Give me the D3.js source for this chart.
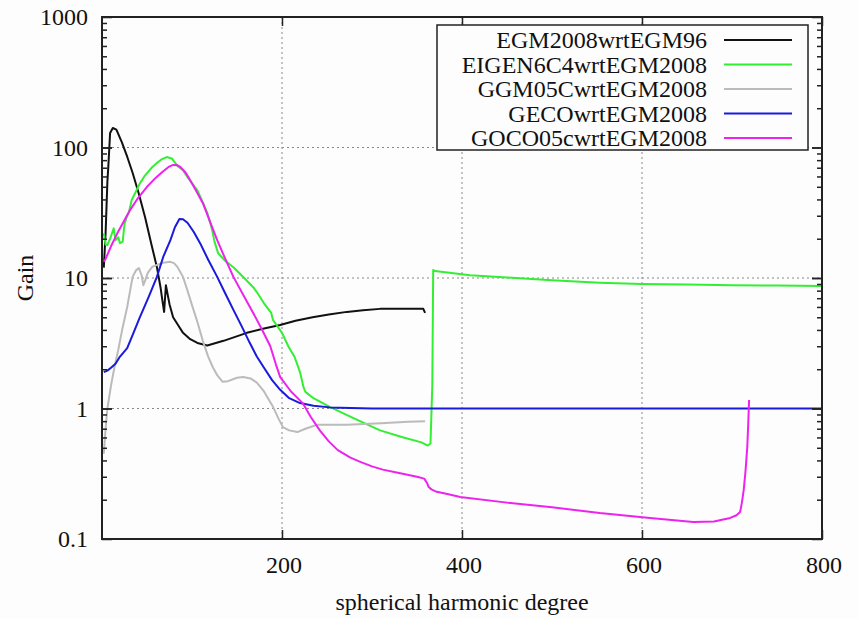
<!DOCTYPE html>
<html>
<head>
<meta charset="utf-8">
<script src="https://cdnjs.cloudflare.com/ajax/libs/d3/7.8.5/d3.min.js"></script>
<style>
	body { margin: 0; background: #fdfdfd; }
	svg text { fill: #111; }
</style>
</head>
<body>
<div id="chart"></div>
<script>
// series, [degree, gain]
var egm2008wrtEgm96 = [[2,12],[4,22],[6,55],[7,71],[9,129],[12,141],[16,137],[22,110],[28,85],[34,64],[41,44],[48,29],[55,18],[61,12.1],[65,8.5],[67,6.8],[69,5.5],[71,8.8],[75,6.3],[79,5.0],[85,4.3],[90,3.8],[98,3.4],[106,3.18],[117,3.04],[135,3.3],[161,3.8],[180,4.1],[198,4.36],[215,4.7],[234,5.0],[252,5.25],[272,5.5],[290,5.65],[309,5.8],[330,5.82],[353,5.8],[357,5.8],[359,5.4]];

var eigen6c4wrtEgm2008 = [[2,22],[4,18],[6,17.9],[9,20],[13,24],[15,19.5],[18,20.5],[20,18.5],[23,19],[25,26],[28,30],[30,32],[33,39.6],[37,45],[42,53],[47,60],[56,71],[61,76],[66,81],[72,84.5],[78,82],[79,80],[84,72],[90,67],[96,58],[106,47],[112,38],[117,31.5],[122,24],[125,19],[129,15.5],[137,13.5],[146,12.1],[158,10],[168,8.5],[172,7.8],[180,6.4],[188,5.4],[190,4.77],[200,3.8],[207,3.0],[214,2.48],[220,1.9],[224,1.45],[226,1.34],[235,1.2],[253,1.03],[280,0.84],[309,0.68],[335,0.6],[355,0.55],[362,0.52],[365,0.54],[367,1.5],[368,11.5],[370,11.3],[409,10.5],[450,10.1],[500,9.6],[553,9.2],[600,9.0],[650,8.9],[700,8.8],[750,8.75],[800,8.7]];

var ggm05cwrtEgm2008 = [[2,0.45],[4,0.7],[6,1.0],[10,1.5],[14,2.1],[18,2.8],[23,4.2],[28,6.0],[34,10.2],[38,11.5],[41,11.9],[44,10.5],[46,8.8],[48,9.6],[51,11.0],[56,12.2],[61,12.6],[68,13.1],[76,13.3],[80,13.0],[84,12.1],[90,10.2],[95,8.0],[100,6.2],[106,4.6],[112,3.3],[118,2.5],[123,2.08],[128,1.8],[134,1.6],[140,1.62],[150,1.72],[157,1.74],[165,1.7],[172,1.58],[180,1.35],[190,1.03],[196,0.84],[201,0.72],[208,0.68],[217,0.66],[226,0.7],[239,0.75],[272,0.75],[310,0.77],[340,0.79],[359,0.80]];

var gecowrtEgm2008 = [[2,1.9],[6,1.95],[10,2.05],[15,2.2],[20,2.5],[28,2.9],[35,3.8],[42,5.0],[52,7.2],[61,10.2],[68,14.5],[76,19.5],[81,24.5],[86,28.3],[90,28.2],[95,26.5],[102,22.5],[109,18.5],[118,13.8],[128,10.2],[137,7.6],[146,5.7],[155,4.3],[164,3.2],[172,2.5],[180,2.05],[189,1.65],[198,1.39],[208,1.2],[220,1.1],[235,1.05],[253,1.02],[300,1.0],[400,1.0],[500,1.0],[600,1.0],[700,1.0],[800,1.0]];

var goco05cwrtEgm2008 = [[2,13.3],[4,14],[10,17.5],[17,22],[24,27],[31,33],[40,41],[50,50],[58,57],[67,65],[74,71],[79,73.5],[84,73],[87,71],[93,64],[98,56],[105,46],[112,37.6],[120,27],[128,19.5],[137,14],[146,10.2],[157,7.4],[168,5.4],[178,4.0],[187,3],[193,2.2],[198,1.74],[210,1.35],[223,1.1],[232,0.86],[242,0.68],[252,0.56],[262,0.48],[276,0.42],[287,0.39],[300,0.36],[312,0.34],[330,0.32],[350,0.3],[358,0.29],[361,0.27],[363,0.25],[366,0.24],[372,0.23],[385,0.22],[398,0.21],[450,0.19],[500,0.175],[553,0.158],[609,0.145],[657,0.135],[680,0.136],[698,0.145],[705,0.152],[709,0.161],[711,0.19],[713,0.237],[715,0.33],[717,0.51],[718,0.75],[719,1.16]];

var seriesNames = ["EGM2008wrtEGM96", "EIGEN6C4wrtEGM2008", "GGM05CwrtEGM2008", "GECOwrtEGM2008", "GOCO05cwrtEGM2008"];
var seriesColors = ["#111111", "#33ee33", "#bbbbbb", "#1a1add", "#ee22ee"];
var seriesData = [egm2008wrtEgm96, eigen6c4wrtEgm2008, ggm05cwrtEgm2008, gecowrtEgm2008, goco05cwrtEgm2008];

var xTicks = [200, 400, 600, 800];
var yTicks = [0.1, 1, 10, 100, 1000];
var yTickLabels = ["0.1", "1", "10", "100", "1000"];

// pick the first serif face that is really installed (gnuplot look)
function pickFont(){
	var candidates = ["Liberation Serif", "Times New Roman", "Tinos", "DejaVu Serif", "Noto Serif", "FreeSerif", "Nimbus Roman", "Noto Serif CJK SC"];
	var ctx = document.createElement("canvas").getContext("2d");
	var probe = "EGM2008wrtEGM96 spherical";
	ctx.font = "40px monospace";
	var base = ctx.measureText(probe).width;
	for(var i = 0; i < candidates.length; i++){
		ctx.font = "40px '" + candidates[i] + "', monospace";
		if(ctx.measureText(probe).width != base){
			return "'" + candidates[i] + "', serif";
		}
	}
	return "serif";
}
var serif = pickFont();

var layout = {
	w: 858,
	h: 619,
	left: 102,
	right: 822,
	top: 17,
	bottom: 539
}

var svg = d3.select("#chart")
			.append("svg")
			.attr("width", layout.w)
			.attr("height", layout.h)
			.attr("font-family", serif);

var xScale = d3.scaleLinear().domain([0, 800]).range([layout.left, layout.right]),
	yScale = d3.scaleLog().domain([0.1, 1000]).range([layout.bottom, layout.top]);

// grid
var grid = svg.append("g").attr("class", "grid");
grid.selectAll("line.gx")
	.data(xTicks.slice(0, 3))
	.enter().append("line")
	.attr("x1", function(d){ return xScale(d); })
	.attr("x2", function(d){ return xScale(d); })
	.attr("y1", layout.top)
	.attr("y2", layout.bottom)
	.style("stroke", "#888")
	.style("stroke-width", 1)
	.style("stroke-dasharray", "2,3");
grid.selectAll("line.gy")
	.data([1, 10, 100])
	.enter().append("line")
	.attr("x1", layout.left)
	.attr("x2", layout.right)
	.attr("y1", function(d){ return yScale(d); })
	.attr("y2", function(d){ return yScale(d); })
	.style("stroke", "#888")
	.style("stroke-width", 1)
	.style("stroke-dasharray", "2,3");

// curves
var line = d3.line()
			.x(function(d){ return xScale(d[0]); })
			.y(function(d){ return yScale(d[1]); });

svg.append("g")
	.attr("class", "lines")
	.selectAll("path")
	.data(seriesData)
	.enter().append("path")
	.attr("d", line)
	.style("fill", "none")
	.style("stroke", function(d, i){ return seriesColors[i]; })
	.style("stroke-width", 2)
	.style("stroke-linejoin", "round");

// axes, ticks inside on all four sides
var minorTicks = [];
[0.1, 1, 10, 100].forEach(function(dec){
	for(var k = 1; k <= 10; k++){ minorTicks.push(dec * k); }
});

var axisL = svg.append("g").attr("transform", "translate(" + layout.left + ",0)")
				.call(d3.axisRight(yScale).tickValues(minorTicks).tickSize(5).tickFormat(""));
var axisR = svg.append("g").attr("transform", "translate(" + layout.right + ",0)")
				.call(d3.axisLeft(yScale).tickValues(minorTicks).tickSize(5).tickFormat(""));
var axisB = svg.append("g").attr("transform", "translate(0," + layout.bottom + ")")
				.call(d3.axisTop(xScale).tickValues(xTicks).tickSize(9).tickFormat(""));
var axisT = svg.append("g").attr("transform", "translate(0," + layout.top + ")")
				.call(d3.axisBottom(xScale).tickValues(xTicks).tickSize(9).tickFormat(""));

[axisL, axisR, axisB, axisT].forEach(function(a){
	a.select(".domain").remove();
	a.selectAll("line").style("stroke", "#222").style("stroke-width", 1.5);
});
// longer major ticks
axisL.selectAll(".tick line").attr("x2", function(d){ return yTicks.indexOf(d) >= 0 ? 10 : 5; });
axisR.selectAll(".tick line").attr("x2", function(d){ return yTicks.indexOf(d) >= 0 ? -10 : -5; });

svg.append("rect")
	.attr("x", layout.left)
	.attr("y", layout.top)
	.attr("width", layout.right - layout.left)
	.attr("height", layout.bottom - layout.top)
	.style("fill", "none")
	.style("stroke", "#222")
	.style("stroke-width", 2);

// tick labels
svg.append("g").selectAll("text")
	.data(yTicks)
	.enter().append("text")
	.attr("x", 88)
	.attr("y", function(d){ return yScale(d) + 8; })
	.attr("text-anchor", "end")
	.style("font-family", serif)
	.style("font-size", "24px")
	.text(function(d, i){ return yTickLabels[i]; });

svg.append("g").selectAll("text")
	.data(xTicks)
	.enter().append("text")
	.attr("x", function(d){ return xScale(d) + 2; })
	.attr("y", 573)
	.attr("text-anchor", "middle")
	.style("font-family", serif)
	.style("font-size", "24px")
	.text(function(d){ return d; });

svg.append("text")
	.attr("x", 462)
	.attr("y", 610)
	.attr("text-anchor", "middle")
	.style("font-family", serif)
	.style("font-size", "24px")
	.text("spherical harmonic degree");

svg.append("text")
	.attr("transform", "translate(33,278) rotate(-90)")
	.attr("text-anchor", "middle")
	.style("font-family", serif)
	.style("font-size", "24px")
	.text("Gain");

// legend
var legend = svg.append("g").attr("class", "legend");
legend.append("rect")
	.attr("x", 437)
	.attr("y", 25)
	.attr("width", 371)
	.attr("height", 125)
	.style("fill", "#fdfdfd")
	.style("stroke", "#222")
	.style("stroke-width", 1.5);

var rows = legend.selectAll("g.row")
				.data(seriesNames)
				.enter().append("g")
				.attr("transform", function(d, i){ return "translate(0," + (40 + i * 24.5) + ")"; });
rows.append("text")
	.attr("x", 707)
	.attr("y", 8)
	.attr("text-anchor", "end")
	.style("font-family", serif)
	.style("font-size", "24px")
	.text(function(d){ return d; });
rows.append("line")
	.attr("x1", 724)
	.attr("x2", 792)
	.attr("y1", 0)
	.attr("y2", 0)
	.style("stroke", function(d, i){ return seriesColors[i]; })
	.style("stroke-width", 2);
</script>
</body>
</html>
